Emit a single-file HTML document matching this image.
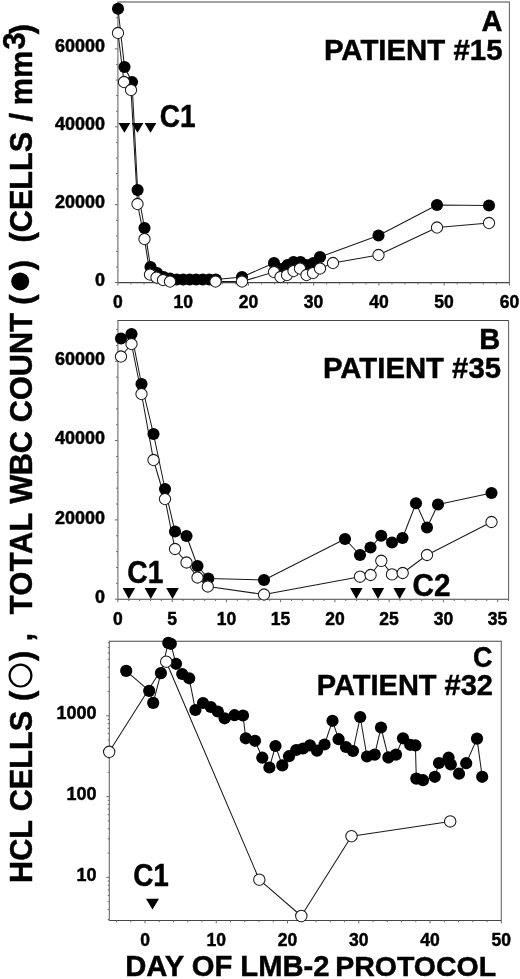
<!DOCTYPE html>
<html><head><meta charset="utf-8"><title>Figure</title>
<style>
html,body{margin:0;padding:0;background:#fff;}
body{width:520px;height:979px;overflow:hidden;}
svg{display:block;font-family:"Liberation Sans", Arial, Helvetica, sans-serif;fill:#000;}
</style></head><body>
<svg width="520" height="979" viewBox="0 0 520 979">
<rect x="0" y="0" width="520" height="979" fill="#fff"/>
<line x1="117.90" y1="1.90" x2="509.40" y2="1.90" stroke="#444" stroke-width="1.05"/>
<line x1="117.90" y1="282.60" x2="509.40" y2="282.60" stroke="#444" stroke-width="1.05"/>
<line x1="117.90" y1="1.40" x2="117.90" y2="283.10" stroke="#626262" stroke-width="1.05"/>
<line x1="509.40" y1="1.40" x2="509.40" y2="283.10" stroke="#626262" stroke-width="1.05"/>
<line x1="117.90" y1="282.60" x2="117.90" y2="285.60" stroke="#6a6a6a" stroke-width="1.0"/>
<line x1="130.95" y1="282.60" x2="130.95" y2="284.40" stroke="#6a6a6a" stroke-width="1.0"/>
<line x1="144.00" y1="282.60" x2="144.00" y2="284.40" stroke="#6a6a6a" stroke-width="1.0"/>
<line x1="157.05" y1="282.60" x2="157.05" y2="284.40" stroke="#6a6a6a" stroke-width="1.0"/>
<line x1="170.10" y1="282.60" x2="170.10" y2="284.40" stroke="#6a6a6a" stroke-width="1.0"/>
<line x1="183.15" y1="282.60" x2="183.15" y2="285.60" stroke="#6a6a6a" stroke-width="1.0"/>
<line x1="196.20" y1="282.60" x2="196.20" y2="284.40" stroke="#6a6a6a" stroke-width="1.0"/>
<line x1="209.25" y1="282.60" x2="209.25" y2="284.40" stroke="#6a6a6a" stroke-width="1.0"/>
<line x1="222.30" y1="282.60" x2="222.30" y2="284.40" stroke="#6a6a6a" stroke-width="1.0"/>
<line x1="235.35" y1="282.60" x2="235.35" y2="284.40" stroke="#6a6a6a" stroke-width="1.0"/>
<line x1="248.40" y1="282.60" x2="248.40" y2="285.60" stroke="#6a6a6a" stroke-width="1.0"/>
<line x1="261.45" y1="282.60" x2="261.45" y2="284.40" stroke="#6a6a6a" stroke-width="1.0"/>
<line x1="274.50" y1="282.60" x2="274.50" y2="284.40" stroke="#6a6a6a" stroke-width="1.0"/>
<line x1="287.55" y1="282.60" x2="287.55" y2="284.40" stroke="#6a6a6a" stroke-width="1.0"/>
<line x1="300.60" y1="282.60" x2="300.60" y2="284.40" stroke="#6a6a6a" stroke-width="1.0"/>
<line x1="313.65" y1="282.60" x2="313.65" y2="285.60" stroke="#6a6a6a" stroke-width="1.0"/>
<line x1="326.70" y1="282.60" x2="326.70" y2="284.40" stroke="#6a6a6a" stroke-width="1.0"/>
<line x1="339.75" y1="282.60" x2="339.75" y2="284.40" stroke="#6a6a6a" stroke-width="1.0"/>
<line x1="352.80" y1="282.60" x2="352.80" y2="284.40" stroke="#6a6a6a" stroke-width="1.0"/>
<line x1="365.85" y1="282.60" x2="365.85" y2="284.40" stroke="#6a6a6a" stroke-width="1.0"/>
<line x1="378.90" y1="282.60" x2="378.90" y2="285.60" stroke="#6a6a6a" stroke-width="1.0"/>
<line x1="391.95" y1="282.60" x2="391.95" y2="284.40" stroke="#6a6a6a" stroke-width="1.0"/>
<line x1="405.00" y1="282.60" x2="405.00" y2="284.40" stroke="#6a6a6a" stroke-width="1.0"/>
<line x1="418.05" y1="282.60" x2="418.05" y2="284.40" stroke="#6a6a6a" stroke-width="1.0"/>
<line x1="431.10" y1="282.60" x2="431.10" y2="284.40" stroke="#6a6a6a" stroke-width="1.0"/>
<line x1="444.15" y1="282.60" x2="444.15" y2="285.60" stroke="#6a6a6a" stroke-width="1.0"/>
<line x1="457.20" y1="282.60" x2="457.20" y2="284.40" stroke="#6a6a6a" stroke-width="1.0"/>
<line x1="470.25" y1="282.60" x2="470.25" y2="284.40" stroke="#6a6a6a" stroke-width="1.0"/>
<line x1="483.30" y1="282.60" x2="483.30" y2="284.40" stroke="#6a6a6a" stroke-width="1.0"/>
<line x1="496.35" y1="282.60" x2="496.35" y2="284.40" stroke="#6a6a6a" stroke-width="1.0"/>
<line x1="509.40" y1="282.60" x2="509.40" y2="285.60" stroke="#6a6a6a" stroke-width="1.0"/>
<line x1="117.90" y1="282.60" x2="114.90" y2="282.60" stroke="#6a6a6a" stroke-width="1.0"/>
<line x1="117.90" y1="267.02" x2="116.10" y2="267.02" stroke="#6a6a6a" stroke-width="1.0"/>
<line x1="117.90" y1="251.44" x2="116.10" y2="251.44" stroke="#6a6a6a" stroke-width="1.0"/>
<line x1="117.90" y1="235.86" x2="116.10" y2="235.86" stroke="#6a6a6a" stroke-width="1.0"/>
<line x1="117.90" y1="220.28" x2="116.10" y2="220.28" stroke="#6a6a6a" stroke-width="1.0"/>
<line x1="117.90" y1="204.70" x2="114.90" y2="204.70" stroke="#6a6a6a" stroke-width="1.0"/>
<line x1="117.90" y1="189.12" x2="116.10" y2="189.12" stroke="#6a6a6a" stroke-width="1.0"/>
<line x1="117.90" y1="173.54" x2="116.10" y2="173.54" stroke="#6a6a6a" stroke-width="1.0"/>
<line x1="117.90" y1="157.96" x2="116.10" y2="157.96" stroke="#6a6a6a" stroke-width="1.0"/>
<line x1="117.90" y1="142.38" x2="116.10" y2="142.38" stroke="#6a6a6a" stroke-width="1.0"/>
<line x1="117.90" y1="126.80" x2="114.90" y2="126.80" stroke="#6a6a6a" stroke-width="1.0"/>
<line x1="117.90" y1="111.22" x2="116.10" y2="111.22" stroke="#6a6a6a" stroke-width="1.0"/>
<line x1="117.90" y1="95.64" x2="116.10" y2="95.64" stroke="#6a6a6a" stroke-width="1.0"/>
<line x1="117.90" y1="80.06" x2="116.10" y2="80.06" stroke="#6a6a6a" stroke-width="1.0"/>
<line x1="117.90" y1="64.48" x2="116.10" y2="64.48" stroke="#6a6a6a" stroke-width="1.0"/>
<line x1="117.90" y1="48.90" x2="114.90" y2="48.90" stroke="#6a6a6a" stroke-width="1.0"/>
<line x1="117.90" y1="33.32" x2="116.10" y2="33.32" stroke="#6a6a6a" stroke-width="1.0"/>
<line x1="117.90" y1="17.74" x2="116.10" y2="17.74" stroke="#6a6a6a" stroke-width="1.0"/>
<text x="117.9" y="308.0" font-size="17.5" font-weight="bold" text-anchor="middle" stroke="#000" stroke-width="0.45" >0</text>
<text x="183.2" y="308.0" font-size="17.5" font-weight="bold" text-anchor="middle" stroke="#000" stroke-width="0.45" >10</text>
<text x="248.4" y="308.0" font-size="17.5" font-weight="bold" text-anchor="middle" stroke="#000" stroke-width="0.45" >20</text>
<text x="313.6" y="308.0" font-size="17.5" font-weight="bold" text-anchor="middle" stroke="#000" stroke-width="0.45" >30</text>
<text x="378.9" y="308.0" font-size="17.5" font-weight="bold" text-anchor="middle" stroke="#000" stroke-width="0.45" >40</text>
<text x="444.1" y="308.0" font-size="17.5" font-weight="bold" text-anchor="middle" stroke="#000" stroke-width="0.45" >50</text>
<text x="509.4" y="308.0" font-size="17.5" font-weight="bold" text-anchor="middle" stroke="#000" stroke-width="0.45" >60</text>
<text transform="translate(105.0,285.9) scale(1.03,1)" font-size="17.5" font-weight="bold" text-anchor="end" stroke="#000" stroke-width="0.45" >0</text>
<text transform="translate(105.0,208.0) scale(1.03,1)" font-size="17.5" font-weight="bold" text-anchor="end" stroke="#000" stroke-width="0.45" >20000</text>
<text transform="translate(105.0,130.1) scale(1.03,1)" font-size="17.5" font-weight="bold" text-anchor="end" stroke="#000" stroke-width="0.45" >40000</text>
<text transform="translate(105.0,52.2) scale(1.03,1)" font-size="17.5" font-weight="bold" text-anchor="end" stroke="#000" stroke-width="0.45" >60000</text>
<polyline points="118.0,8.7 124.5,67.0 132.0,82.0 137.6,190.0 144.5,228.0 150.5,267.0 157.0,273.0 163.5,277.0 170.0,278.5 176.7,279.5 183.2,279.5 189.7,279.5 196.2,279.5 202.8,279.5 209.3,279.5 215.8,279.5 242.0,277.0 274.0,263.0 281.0,269.0 287.5,265.0 293.5,262.0 300.5,262.0 307.0,265.0 313.5,263.0 320.0,257.0 378.5,235.5 437.0,205.0 489.0,205.5" fill="none" stroke="#1a1a1a" stroke-width="1.05" stroke-linejoin="round"/>
<polyline points="118.0,33.0 124.0,82.0 131.0,90.0 137.5,204.0 144.5,239.0 150.0,274.5 156.5,277.5 163.0,280.0 170.0,281.5 215.5,281.5 242.0,281.5 274.0,272.0 280.5,277.0 287.0,275.0 293.5,271.0 300.0,268.5 306.5,275.0 313.0,273.0 320.0,268.5 333.0,263.0 378.5,255.0 437.0,227.5 489.0,223.0" fill="none" stroke="#1a1a1a" stroke-width="1.05" stroke-linejoin="round"/>
<circle cx="118.0" cy="8.7" r="6.05" fill="#000"/>
<circle cx="124.5" cy="67.0" r="6.05" fill="#000"/>
<circle cx="132.0" cy="82.0" r="6.05" fill="#000"/>
<circle cx="137.6" cy="190.0" r="6.05" fill="#000"/>
<circle cx="144.5" cy="228.0" r="6.05" fill="#000"/>
<circle cx="150.5" cy="267.0" r="6.05" fill="#000"/>
<circle cx="157.0" cy="273.0" r="6.05" fill="#000"/>
<circle cx="163.5" cy="277.0" r="6.05" fill="#000"/>
<circle cx="170.0" cy="278.5" r="6.05" fill="#000"/>
<circle cx="176.7" cy="279.5" r="6.05" fill="#000"/>
<circle cx="183.2" cy="279.5" r="6.05" fill="#000"/>
<circle cx="189.7" cy="279.5" r="6.05" fill="#000"/>
<circle cx="196.2" cy="279.5" r="6.05" fill="#000"/>
<circle cx="202.8" cy="279.5" r="6.05" fill="#000"/>
<circle cx="209.3" cy="279.5" r="6.05" fill="#000"/>
<circle cx="215.8" cy="279.5" r="6.05" fill="#000"/>
<circle cx="242.0" cy="277.0" r="6.05" fill="#000"/>
<circle cx="274.0" cy="263.0" r="6.05" fill="#000"/>
<circle cx="281.0" cy="269.0" r="6.05" fill="#000"/>
<circle cx="287.5" cy="265.0" r="6.05" fill="#000"/>
<circle cx="293.5" cy="262.0" r="6.05" fill="#000"/>
<circle cx="300.5" cy="262.0" r="6.05" fill="#000"/>
<circle cx="307.0" cy="265.0" r="6.05" fill="#000"/>
<circle cx="313.5" cy="263.0" r="6.05" fill="#000"/>
<circle cx="320.0" cy="257.0" r="6.05" fill="#000"/>
<circle cx="378.5" cy="235.5" r="6.05" fill="#000"/>
<circle cx="437.0" cy="205.0" r="6.05" fill="#000"/>
<circle cx="489.0" cy="205.5" r="6.05" fill="#000"/>
<circle cx="118.0" cy="33.0" r="5.65" fill="#fff" stroke="#1a1a1a" stroke-width="1.05"/>
<circle cx="124.0" cy="82.0" r="5.65" fill="#fff" stroke="#1a1a1a" stroke-width="1.05"/>
<circle cx="131.0" cy="90.0" r="5.65" fill="#fff" stroke="#1a1a1a" stroke-width="1.05"/>
<circle cx="137.5" cy="204.0" r="5.65" fill="#fff" stroke="#1a1a1a" stroke-width="1.05"/>
<circle cx="144.5" cy="239.0" r="5.65" fill="#fff" stroke="#1a1a1a" stroke-width="1.05"/>
<circle cx="150.0" cy="274.5" r="5.65" fill="#fff" stroke="#1a1a1a" stroke-width="1.05"/>
<circle cx="156.5" cy="277.5" r="5.65" fill="#fff" stroke="#1a1a1a" stroke-width="1.05"/>
<circle cx="163.0" cy="280.0" r="5.65" fill="#fff" stroke="#1a1a1a" stroke-width="1.05"/>
<circle cx="170.0" cy="281.5" r="5.65" fill="#fff" stroke="#1a1a1a" stroke-width="1.05"/>
<circle cx="215.5" cy="281.5" r="5.65" fill="#fff" stroke="#1a1a1a" stroke-width="1.05"/>
<circle cx="242.0" cy="281.5" r="5.65" fill="#fff" stroke="#1a1a1a" stroke-width="1.05"/>
<circle cx="274.0" cy="272.0" r="5.65" fill="#fff" stroke="#1a1a1a" stroke-width="1.05"/>
<circle cx="280.5" cy="277.0" r="5.65" fill="#fff" stroke="#1a1a1a" stroke-width="1.05"/>
<circle cx="287.0" cy="275.0" r="5.65" fill="#fff" stroke="#1a1a1a" stroke-width="1.05"/>
<circle cx="293.5" cy="271.0" r="5.65" fill="#fff" stroke="#1a1a1a" stroke-width="1.05"/>
<circle cx="300.0" cy="268.5" r="5.65" fill="#fff" stroke="#1a1a1a" stroke-width="1.05"/>
<circle cx="306.5" cy="275.0" r="5.65" fill="#fff" stroke="#1a1a1a" stroke-width="1.05"/>
<circle cx="313.0" cy="273.0" r="5.65" fill="#fff" stroke="#1a1a1a" stroke-width="1.05"/>
<circle cx="320.0" cy="268.5" r="5.65" fill="#fff" stroke="#1a1a1a" stroke-width="1.05"/>
<circle cx="333.0" cy="263.0" r="5.65" fill="#fff" stroke="#1a1a1a" stroke-width="1.05"/>
<circle cx="378.5" cy="255.0" r="5.65" fill="#fff" stroke="#1a1a1a" stroke-width="1.05"/>
<circle cx="437.0" cy="227.5" r="5.65" fill="#fff" stroke="#1a1a1a" stroke-width="1.05"/>
<circle cx="489.0" cy="223.0" r="5.65" fill="#fff" stroke="#1a1a1a" stroke-width="1.05"/>
<polygon points="118.5,123.0 130.3,123.0 124.4,132.8" fill="#000"/>
<polygon points="131.6,123.0 143.4,123.0 137.5,132.8" fill="#000"/>
<polygon points="144.6,123.0 156.4,123.0 150.5,132.8" fill="#000"/>
<text transform="translate(159.8,126.7) scale(0.92,1)" font-size="30.5" font-weight="bold" text-anchor="start" stroke="#000" stroke-width="0.45" >C1</text>
<text x="502.5" y="31.4" font-size="29" font-weight="bold" text-anchor="end" stroke="#000" stroke-width="0.45" >A</text>
<text x="502.5" y="60.2" font-size="29.4" font-weight="bold" text-anchor="end" stroke="#000" stroke-width="0.45" >PATIENT #15</text>
<line x1="117.90" y1="320.40" x2="508.60" y2="320.40" stroke="#444" stroke-width="1.05"/>
<line x1="117.90" y1="599.20" x2="508.60" y2="599.20" stroke="#444" stroke-width="1.05"/>
<line x1="117.90" y1="319.90" x2="117.90" y2="599.70" stroke="#626262" stroke-width="1.05"/>
<line x1="508.60" y1="319.90" x2="508.60" y2="599.70" stroke="#626262" stroke-width="1.05"/>
<line x1="117.90" y1="599.20" x2="117.90" y2="602.20" stroke="#6a6a6a" stroke-width="1.0"/>
<line x1="128.75" y1="599.20" x2="128.75" y2="601.00" stroke="#6a6a6a" stroke-width="1.0"/>
<line x1="139.60" y1="599.20" x2="139.60" y2="601.00" stroke="#6a6a6a" stroke-width="1.0"/>
<line x1="150.45" y1="599.20" x2="150.45" y2="601.00" stroke="#6a6a6a" stroke-width="1.0"/>
<line x1="161.30" y1="599.20" x2="161.30" y2="601.00" stroke="#6a6a6a" stroke-width="1.0"/>
<line x1="172.15" y1="599.20" x2="172.15" y2="602.20" stroke="#6a6a6a" stroke-width="1.0"/>
<line x1="183.00" y1="599.20" x2="183.00" y2="601.00" stroke="#6a6a6a" stroke-width="1.0"/>
<line x1="193.85" y1="599.20" x2="193.85" y2="601.00" stroke="#6a6a6a" stroke-width="1.0"/>
<line x1="204.70" y1="599.20" x2="204.70" y2="601.00" stroke="#6a6a6a" stroke-width="1.0"/>
<line x1="215.55" y1="599.20" x2="215.55" y2="601.00" stroke="#6a6a6a" stroke-width="1.0"/>
<line x1="226.40" y1="599.20" x2="226.40" y2="602.20" stroke="#6a6a6a" stroke-width="1.0"/>
<line x1="237.25" y1="599.20" x2="237.25" y2="601.00" stroke="#6a6a6a" stroke-width="1.0"/>
<line x1="248.10" y1="599.20" x2="248.10" y2="601.00" stroke="#6a6a6a" stroke-width="1.0"/>
<line x1="258.95" y1="599.20" x2="258.95" y2="601.00" stroke="#6a6a6a" stroke-width="1.0"/>
<line x1="269.80" y1="599.20" x2="269.80" y2="601.00" stroke="#6a6a6a" stroke-width="1.0"/>
<line x1="280.65" y1="599.20" x2="280.65" y2="602.20" stroke="#6a6a6a" stroke-width="1.0"/>
<line x1="291.50" y1="599.20" x2="291.50" y2="601.00" stroke="#6a6a6a" stroke-width="1.0"/>
<line x1="302.35" y1="599.20" x2="302.35" y2="601.00" stroke="#6a6a6a" stroke-width="1.0"/>
<line x1="313.20" y1="599.20" x2="313.20" y2="601.00" stroke="#6a6a6a" stroke-width="1.0"/>
<line x1="324.05" y1="599.20" x2="324.05" y2="601.00" stroke="#6a6a6a" stroke-width="1.0"/>
<line x1="334.90" y1="599.20" x2="334.90" y2="602.20" stroke="#6a6a6a" stroke-width="1.0"/>
<line x1="345.75" y1="599.20" x2="345.75" y2="601.00" stroke="#6a6a6a" stroke-width="1.0"/>
<line x1="356.60" y1="599.20" x2="356.60" y2="601.00" stroke="#6a6a6a" stroke-width="1.0"/>
<line x1="367.45" y1="599.20" x2="367.45" y2="601.00" stroke="#6a6a6a" stroke-width="1.0"/>
<line x1="378.30" y1="599.20" x2="378.30" y2="601.00" stroke="#6a6a6a" stroke-width="1.0"/>
<line x1="389.15" y1="599.20" x2="389.15" y2="602.20" stroke="#6a6a6a" stroke-width="1.0"/>
<line x1="400.00" y1="599.20" x2="400.00" y2="601.00" stroke="#6a6a6a" stroke-width="1.0"/>
<line x1="410.85" y1="599.20" x2="410.85" y2="601.00" stroke="#6a6a6a" stroke-width="1.0"/>
<line x1="421.70" y1="599.20" x2="421.70" y2="601.00" stroke="#6a6a6a" stroke-width="1.0"/>
<line x1="432.55" y1="599.20" x2="432.55" y2="601.00" stroke="#6a6a6a" stroke-width="1.0"/>
<line x1="443.40" y1="599.20" x2="443.40" y2="602.20" stroke="#6a6a6a" stroke-width="1.0"/>
<line x1="454.25" y1="599.20" x2="454.25" y2="601.00" stroke="#6a6a6a" stroke-width="1.0"/>
<line x1="465.10" y1="599.20" x2="465.10" y2="601.00" stroke="#6a6a6a" stroke-width="1.0"/>
<line x1="475.95" y1="599.20" x2="475.95" y2="601.00" stroke="#6a6a6a" stroke-width="1.0"/>
<line x1="486.80" y1="599.20" x2="486.80" y2="601.00" stroke="#6a6a6a" stroke-width="1.0"/>
<line x1="497.65" y1="599.20" x2="497.65" y2="602.20" stroke="#6a6a6a" stroke-width="1.0"/>
<line x1="508.50" y1="599.20" x2="508.50" y2="601.00" stroke="#6a6a6a" stroke-width="1.0"/>
<line x1="117.90" y1="599.20" x2="114.90" y2="599.20" stroke="#6a6a6a" stroke-width="1.0"/>
<line x1="117.90" y1="583.34" x2="116.10" y2="583.34" stroke="#6a6a6a" stroke-width="1.0"/>
<line x1="117.90" y1="567.48" x2="116.10" y2="567.48" stroke="#6a6a6a" stroke-width="1.0"/>
<line x1="117.90" y1="551.62" x2="116.10" y2="551.62" stroke="#6a6a6a" stroke-width="1.0"/>
<line x1="117.90" y1="535.76" x2="116.10" y2="535.76" stroke="#6a6a6a" stroke-width="1.0"/>
<line x1="117.90" y1="519.90" x2="114.90" y2="519.90" stroke="#6a6a6a" stroke-width="1.0"/>
<line x1="117.90" y1="504.04" x2="116.10" y2="504.04" stroke="#6a6a6a" stroke-width="1.0"/>
<line x1="117.90" y1="488.18" x2="116.10" y2="488.18" stroke="#6a6a6a" stroke-width="1.0"/>
<line x1="117.90" y1="472.32" x2="116.10" y2="472.32" stroke="#6a6a6a" stroke-width="1.0"/>
<line x1="117.90" y1="456.46" x2="116.10" y2="456.46" stroke="#6a6a6a" stroke-width="1.0"/>
<line x1="117.90" y1="440.60" x2="114.90" y2="440.60" stroke="#6a6a6a" stroke-width="1.0"/>
<line x1="117.90" y1="424.74" x2="116.10" y2="424.74" stroke="#6a6a6a" stroke-width="1.0"/>
<line x1="117.90" y1="408.88" x2="116.10" y2="408.88" stroke="#6a6a6a" stroke-width="1.0"/>
<line x1="117.90" y1="393.02" x2="116.10" y2="393.02" stroke="#6a6a6a" stroke-width="1.0"/>
<line x1="117.90" y1="377.16" x2="116.10" y2="377.16" stroke="#6a6a6a" stroke-width="1.0"/>
<line x1="117.90" y1="361.30" x2="114.90" y2="361.30" stroke="#6a6a6a" stroke-width="1.0"/>
<line x1="117.90" y1="345.44" x2="116.10" y2="345.44" stroke="#6a6a6a" stroke-width="1.0"/>
<line x1="117.90" y1="329.58" x2="116.10" y2="329.58" stroke="#6a6a6a" stroke-width="1.0"/>
<text x="117.9" y="624.6" font-size="17.5" font-weight="bold" text-anchor="middle" stroke="#000" stroke-width="0.45" >0</text>
<text x="172.2" y="624.6" font-size="17.5" font-weight="bold" text-anchor="middle" stroke="#000" stroke-width="0.45" >5</text>
<text x="226.4" y="624.6" font-size="17.5" font-weight="bold" text-anchor="middle" stroke="#000" stroke-width="0.45" >10</text>
<text x="280.6" y="624.6" font-size="17.5" font-weight="bold" text-anchor="middle" stroke="#000" stroke-width="0.45" >15</text>
<text x="334.9" y="624.6" font-size="17.5" font-weight="bold" text-anchor="middle" stroke="#000" stroke-width="0.45" >20</text>
<text x="389.1" y="624.6" font-size="17.5" font-weight="bold" text-anchor="middle" stroke="#000" stroke-width="0.45" >25</text>
<text x="443.4" y="624.6" font-size="17.5" font-weight="bold" text-anchor="middle" stroke="#000" stroke-width="0.45" >30</text>
<text x="497.6" y="624.6" font-size="17.5" font-weight="bold" text-anchor="middle" stroke="#000" stroke-width="0.45" >35</text>
<text transform="translate(105.0,602.8) scale(1.03,1)" font-size="17.5" font-weight="bold" text-anchor="end" stroke="#000" stroke-width="0.45" >0</text>
<text transform="translate(105.0,523.5) scale(1.03,1)" font-size="17.5" font-weight="bold" text-anchor="end" stroke="#000" stroke-width="0.45" >20000</text>
<text transform="translate(105.0,444.2) scale(1.03,1)" font-size="17.5" font-weight="bold" text-anchor="end" stroke="#000" stroke-width="0.45" >40000</text>
<text transform="translate(105.0,364.9) scale(1.03,1)" font-size="17.5" font-weight="bold" text-anchor="end" stroke="#000" stroke-width="0.45" >60000</text>
<polyline points="121.0,338.5 131.5,334.0 141.5,384.0 153.5,434.0 165.0,489.0 175.0,531.5 186.5,536.0 197.5,566.0 208.3,578.5 264.0,580.0 345.0,539.0 360.0,555.0 370.5,547.5 381.2,535.8 392.0,542.5 402.5,538.0 416.0,503.3 427.0,527.5 438.0,504.5 491.5,493.0" fill="none" stroke="#1a1a1a" stroke-width="1.05" stroke-linejoin="round"/>
<polyline points="121.0,356.5 131.5,344.0 141.5,394.0 153.5,460.0 165.0,499.0 175.0,549.0 186.5,562.5 197.5,577.5 207.8,586.5 264.0,594.5 360.0,576.7 370.6,575.0 381.3,560.8 392.0,574.4 402.7,573.0 427.0,555.0 491.5,522.0" fill="none" stroke="#1a1a1a" stroke-width="1.05" stroke-linejoin="round"/>
<circle cx="121.0" cy="338.5" r="6.05" fill="#000"/>
<circle cx="131.5" cy="334.0" r="6.05" fill="#000"/>
<circle cx="141.5" cy="384.0" r="6.05" fill="#000"/>
<circle cx="153.5" cy="434.0" r="6.05" fill="#000"/>
<circle cx="165.0" cy="489.0" r="6.05" fill="#000"/>
<circle cx="175.0" cy="531.5" r="6.05" fill="#000"/>
<circle cx="186.5" cy="536.0" r="6.05" fill="#000"/>
<circle cx="197.5" cy="566.0" r="6.05" fill="#000"/>
<circle cx="208.3" cy="578.5" r="6.05" fill="#000"/>
<circle cx="264.0" cy="580.0" r="6.05" fill="#000"/>
<circle cx="345.0" cy="539.0" r="6.05" fill="#000"/>
<circle cx="360.0" cy="555.0" r="6.05" fill="#000"/>
<circle cx="370.5" cy="547.5" r="6.05" fill="#000"/>
<circle cx="381.2" cy="535.8" r="6.05" fill="#000"/>
<circle cx="392.0" cy="542.5" r="6.05" fill="#000"/>
<circle cx="402.5" cy="538.0" r="6.05" fill="#000"/>
<circle cx="416.0" cy="503.3" r="6.05" fill="#000"/>
<circle cx="427.0" cy="527.5" r="6.05" fill="#000"/>
<circle cx="438.0" cy="504.5" r="6.05" fill="#000"/>
<circle cx="491.5" cy="493.0" r="6.05" fill="#000"/>
<circle cx="121.0" cy="356.5" r="5.65" fill="#fff" stroke="#1a1a1a" stroke-width="1.05"/>
<circle cx="131.5" cy="344.0" r="5.65" fill="#fff" stroke="#1a1a1a" stroke-width="1.05"/>
<circle cx="141.5" cy="394.0" r="5.65" fill="#fff" stroke="#1a1a1a" stroke-width="1.05"/>
<circle cx="153.5" cy="460.0" r="5.65" fill="#fff" stroke="#1a1a1a" stroke-width="1.05"/>
<circle cx="165.0" cy="499.0" r="5.65" fill="#fff" stroke="#1a1a1a" stroke-width="1.05"/>
<circle cx="175.0" cy="549.0" r="5.65" fill="#fff" stroke="#1a1a1a" stroke-width="1.05"/>
<circle cx="186.5" cy="562.5" r="5.65" fill="#fff" stroke="#1a1a1a" stroke-width="1.05"/>
<circle cx="197.5" cy="577.5" r="5.65" fill="#fff" stroke="#1a1a1a" stroke-width="1.05"/>
<circle cx="207.8" cy="586.5" r="5.65" fill="#fff" stroke="#1a1a1a" stroke-width="1.05"/>
<circle cx="264.0" cy="594.5" r="5.65" fill="#fff" stroke="#1a1a1a" stroke-width="1.05"/>
<circle cx="360.0" cy="576.7" r="5.65" fill="#fff" stroke="#1a1a1a" stroke-width="1.05"/>
<circle cx="370.6" cy="575.0" r="5.65" fill="#fff" stroke="#1a1a1a" stroke-width="1.05"/>
<circle cx="381.3" cy="560.8" r="5.65" fill="#fff" stroke="#1a1a1a" stroke-width="1.05"/>
<circle cx="392.0" cy="574.4" r="5.65" fill="#fff" stroke="#1a1a1a" stroke-width="1.05"/>
<circle cx="402.7" cy="573.0" r="5.65" fill="#fff" stroke="#1a1a1a" stroke-width="1.05"/>
<circle cx="427.0" cy="555.0" r="5.65" fill="#fff" stroke="#1a1a1a" stroke-width="1.05"/>
<circle cx="491.5" cy="522.0" r="5.65" fill="#fff" stroke="#1a1a1a" stroke-width="1.05"/>
<polygon points="122.6,588.0 135.1,588.0 128.8,599.0" fill="#000"/>
<polygon points="144.6,588.0 157.1,588.0 150.8,599.0" fill="#000"/>
<polygon points="166.2,588.0 178.8,588.0 172.5,599.0" fill="#000"/>
<polygon points="350.1,588.0 362.6,588.0 356.3,599.0" fill="#000"/>
<polygon points="371.8,588.0 384.2,588.0 378.0,599.0" fill="#000"/>
<polygon points="393.4,588.0 405.9,588.0 399.6,599.0" fill="#000"/>
<text transform="translate(127.3,583.0) scale(0.925,1)" font-size="30.5" font-weight="bold" text-anchor="start" stroke="#000" stroke-width="0.45" >C1</text>
<text transform="translate(412.6,595.6) scale(0.975,1)" font-size="30.5" font-weight="bold" text-anchor="start" stroke="#000" stroke-width="0.45" >C2</text>
<text x="500.3" y="349.0" font-size="29" font-weight="bold" text-anchor="end" stroke="#000" stroke-width="0.45" >B</text>
<text x="501.0" y="377.7" font-size="29.3" font-weight="bold" text-anchor="end" stroke="#000" stroke-width="0.45" >PATIENT #35</text>
<line x1="109.30" y1="641.30" x2="501.30" y2="641.30" stroke="#444" stroke-width="1.05"/>
<line x1="109.30" y1="920.40" x2="501.30" y2="920.40" stroke="#444" stroke-width="1.05"/>
<line x1="109.30" y1="640.80" x2="109.30" y2="920.90" stroke="#626262" stroke-width="1.05"/>
<line x1="501.30" y1="640.80" x2="501.30" y2="920.90" stroke="#626262" stroke-width="1.05"/>
<line x1="116.50" y1="920.40" x2="116.50" y2="922.20" stroke="#6a6a6a" stroke-width="1.0"/>
<line x1="130.75" y1="920.40" x2="130.75" y2="922.20" stroke="#6a6a6a" stroke-width="1.0"/>
<line x1="145.00" y1="920.40" x2="145.00" y2="923.40" stroke="#6a6a6a" stroke-width="1.0"/>
<line x1="159.25" y1="920.40" x2="159.25" y2="922.20" stroke="#6a6a6a" stroke-width="1.0"/>
<line x1="173.50" y1="920.40" x2="173.50" y2="922.20" stroke="#6a6a6a" stroke-width="1.0"/>
<line x1="187.76" y1="920.40" x2="187.76" y2="922.20" stroke="#6a6a6a" stroke-width="1.0"/>
<line x1="202.01" y1="920.40" x2="202.01" y2="922.20" stroke="#6a6a6a" stroke-width="1.0"/>
<line x1="216.26" y1="920.40" x2="216.26" y2="923.40" stroke="#6a6a6a" stroke-width="1.0"/>
<line x1="230.51" y1="920.40" x2="230.51" y2="922.20" stroke="#6a6a6a" stroke-width="1.0"/>
<line x1="244.76" y1="920.40" x2="244.76" y2="922.20" stroke="#6a6a6a" stroke-width="1.0"/>
<line x1="259.02" y1="920.40" x2="259.02" y2="922.20" stroke="#6a6a6a" stroke-width="1.0"/>
<line x1="273.27" y1="920.40" x2="273.27" y2="922.20" stroke="#6a6a6a" stroke-width="1.0"/>
<line x1="287.52" y1="920.40" x2="287.52" y2="923.40" stroke="#6a6a6a" stroke-width="1.0"/>
<line x1="301.77" y1="920.40" x2="301.77" y2="922.20" stroke="#6a6a6a" stroke-width="1.0"/>
<line x1="316.02" y1="920.40" x2="316.02" y2="922.20" stroke="#6a6a6a" stroke-width="1.0"/>
<line x1="330.28" y1="920.40" x2="330.28" y2="922.20" stroke="#6a6a6a" stroke-width="1.0"/>
<line x1="344.53" y1="920.40" x2="344.53" y2="922.20" stroke="#6a6a6a" stroke-width="1.0"/>
<line x1="358.78" y1="920.40" x2="358.78" y2="923.40" stroke="#6a6a6a" stroke-width="1.0"/>
<line x1="373.03" y1="920.40" x2="373.03" y2="922.20" stroke="#6a6a6a" stroke-width="1.0"/>
<line x1="387.28" y1="920.40" x2="387.28" y2="922.20" stroke="#6a6a6a" stroke-width="1.0"/>
<line x1="401.54" y1="920.40" x2="401.54" y2="922.20" stroke="#6a6a6a" stroke-width="1.0"/>
<line x1="415.79" y1="920.40" x2="415.79" y2="922.20" stroke="#6a6a6a" stroke-width="1.0"/>
<line x1="430.04" y1="920.40" x2="430.04" y2="923.40" stroke="#6a6a6a" stroke-width="1.0"/>
<line x1="444.29" y1="920.40" x2="444.29" y2="922.20" stroke="#6a6a6a" stroke-width="1.0"/>
<line x1="458.54" y1="920.40" x2="458.54" y2="922.20" stroke="#6a6a6a" stroke-width="1.0"/>
<line x1="472.80" y1="920.40" x2="472.80" y2="922.20" stroke="#6a6a6a" stroke-width="1.0"/>
<line x1="487.05" y1="920.40" x2="487.05" y2="922.20" stroke="#6a6a6a" stroke-width="1.0"/>
<line x1="501.30" y1="920.40" x2="501.30" y2="923.40" stroke="#6a6a6a" stroke-width="1.0"/>
<line x1="109.30" y1="919.65" x2="107.70" y2="919.65" stroke="#6a6a6a" stroke-width="1.0"/>
<line x1="109.30" y1="909.55" x2="107.70" y2="909.55" stroke="#6a6a6a" stroke-width="1.0"/>
<line x1="109.30" y1="901.72" x2="107.70" y2="901.72" stroke="#6a6a6a" stroke-width="1.0"/>
<line x1="109.30" y1="895.33" x2="107.70" y2="895.33" stroke="#6a6a6a" stroke-width="1.0"/>
<line x1="109.30" y1="889.92" x2="107.70" y2="889.92" stroke="#6a6a6a" stroke-width="1.0"/>
<line x1="109.30" y1="885.23" x2="107.70" y2="885.23" stroke="#6a6a6a" stroke-width="1.0"/>
<line x1="109.30" y1="881.10" x2="107.70" y2="881.10" stroke="#6a6a6a" stroke-width="1.0"/>
<line x1="109.30" y1="877.40" x2="106.30" y2="877.40" stroke="#6a6a6a" stroke-width="1.0"/>
<line x1="109.30" y1="853.08" x2="107.70" y2="853.08" stroke="#6a6a6a" stroke-width="1.0"/>
<line x1="109.30" y1="838.85" x2="107.70" y2="838.85" stroke="#6a6a6a" stroke-width="1.0"/>
<line x1="109.30" y1="828.75" x2="107.70" y2="828.75" stroke="#6a6a6a" stroke-width="1.0"/>
<line x1="109.30" y1="820.92" x2="107.70" y2="820.92" stroke="#6a6a6a" stroke-width="1.0"/>
<line x1="109.30" y1="814.53" x2="107.70" y2="814.53" stroke="#6a6a6a" stroke-width="1.0"/>
<line x1="109.30" y1="809.12" x2="107.70" y2="809.12" stroke="#6a6a6a" stroke-width="1.0"/>
<line x1="109.30" y1="804.43" x2="107.70" y2="804.43" stroke="#6a6a6a" stroke-width="1.0"/>
<line x1="109.30" y1="800.30" x2="107.70" y2="800.30" stroke="#6a6a6a" stroke-width="1.0"/>
<line x1="109.30" y1="796.60" x2="106.30" y2="796.60" stroke="#6a6a6a" stroke-width="1.0"/>
<line x1="109.30" y1="772.28" x2="107.70" y2="772.28" stroke="#6a6a6a" stroke-width="1.0"/>
<line x1="109.30" y1="758.05" x2="107.70" y2="758.05" stroke="#6a6a6a" stroke-width="1.0"/>
<line x1="109.30" y1="747.95" x2="107.70" y2="747.95" stroke="#6a6a6a" stroke-width="1.0"/>
<line x1="109.30" y1="740.12" x2="107.70" y2="740.12" stroke="#6a6a6a" stroke-width="1.0"/>
<line x1="109.30" y1="733.73" x2="107.70" y2="733.73" stroke="#6a6a6a" stroke-width="1.0"/>
<line x1="109.30" y1="728.32" x2="107.70" y2="728.32" stroke="#6a6a6a" stroke-width="1.0"/>
<line x1="109.30" y1="723.63" x2="107.70" y2="723.63" stroke="#6a6a6a" stroke-width="1.0"/>
<line x1="109.30" y1="719.50" x2="107.70" y2="719.50" stroke="#6a6a6a" stroke-width="1.0"/>
<line x1="109.30" y1="715.80" x2="106.30" y2="715.80" stroke="#6a6a6a" stroke-width="1.0"/>
<line x1="109.30" y1="691.48" x2="107.70" y2="691.48" stroke="#6a6a6a" stroke-width="1.0"/>
<line x1="109.30" y1="677.25" x2="107.70" y2="677.25" stroke="#6a6a6a" stroke-width="1.0"/>
<line x1="109.30" y1="667.15" x2="107.70" y2="667.15" stroke="#6a6a6a" stroke-width="1.0"/>
<line x1="109.30" y1="659.32" x2="107.70" y2="659.32" stroke="#6a6a6a" stroke-width="1.0"/>
<line x1="109.30" y1="652.93" x2="107.70" y2="652.93" stroke="#6a6a6a" stroke-width="1.0"/>
<line x1="109.30" y1="647.52" x2="107.70" y2="647.52" stroke="#6a6a6a" stroke-width="1.0"/>
<line x1="109.30" y1="642.83" x2="107.70" y2="642.83" stroke="#6a6a6a" stroke-width="1.0"/>
<text x="145.0" y="945.5" font-size="17.5" font-weight="bold" text-anchor="middle" stroke="#000" stroke-width="0.45" >0</text>
<text x="216.3" y="945.5" font-size="17.5" font-weight="bold" text-anchor="middle" stroke="#000" stroke-width="0.45" >10</text>
<text x="287.5" y="945.5" font-size="17.5" font-weight="bold" text-anchor="middle" stroke="#000" stroke-width="0.45" >20</text>
<text x="358.8" y="945.5" font-size="17.5" font-weight="bold" text-anchor="middle" stroke="#000" stroke-width="0.45" >30</text>
<text x="430.0" y="945.5" font-size="17.5" font-weight="bold" text-anchor="middle" stroke="#000" stroke-width="0.45" >40</text>
<text x="501.3" y="945.5" font-size="17.5" font-weight="bold" text-anchor="middle" stroke="#000" stroke-width="0.45" >50</text>
<text transform="translate(96.5,880.8) scale(1.03,1)" font-size="17.5" font-weight="bold" text-anchor="end" stroke="#000" stroke-width="0.45" >10</text>
<text transform="translate(96.5,800.0) scale(1.03,1)" font-size="17.5" font-weight="bold" text-anchor="end" stroke="#000" stroke-width="0.45" >100</text>
<text transform="translate(96.5,719.2) scale(1.03,1)" font-size="17.5" font-weight="bold" text-anchor="end" stroke="#000" stroke-width="0.45" >1000</text>
<polyline points="126.2,670.9 149.2,690.9 153.2,702.9 160.9,673.1 168.3,642.9 170.8,643.8 176.0,663.8 182.2,674.0 189.2,678.3 195.4,710.0 203.0,703.0 210.8,707.0 217.8,711.5 224.6,718.3 234.5,715.2 243.0,715.5 245.8,738.3 255.0,740.8 262.3,757.7 269.4,767.5 275.5,746.0 282.3,765.4 289.0,756.2 296.2,750.0 303.0,748.5 310.0,745.4 317.0,750.6 324.5,744.5 332.5,720.8 338.6,739.2 346.0,747.0 353.0,751.0 360.2,717.0 367.0,756.5 374.7,754.6 381.0,727.5 388.4,757.4 396.0,754.6 403.0,738.3 410.2,744.8 415.4,745.4 416.3,778.6 423.0,780.2 434.8,776.8 439.0,763.0 448.6,757.7 450.8,764.5 459.0,773.7 466.2,763.2 477.0,738.6 482.2,776.8" fill="none" stroke="#1a1a1a" stroke-width="1.05" stroke-linejoin="round"/>
<polyline points="109.2,751.8 166.2,661.7 259.3,879.7 301.3,916.0 351.5,836.2 450.2,821.4" fill="none" stroke="#1a1a1a" stroke-width="1.05" stroke-linejoin="round"/>
<circle cx="126.2" cy="670.9" r="6.1" fill="#000"/>
<circle cx="149.2" cy="690.9" r="6.1" fill="#000"/>
<circle cx="153.2" cy="702.9" r="6.1" fill="#000"/>
<circle cx="160.9" cy="673.1" r="6.1" fill="#000"/>
<circle cx="168.3" cy="642.9" r="6.1" fill="#000"/>
<circle cx="170.8" cy="643.8" r="6.1" fill="#000"/>
<circle cx="176.0" cy="663.8" r="6.1" fill="#000"/>
<circle cx="182.2" cy="674.0" r="6.1" fill="#000"/>
<circle cx="189.2" cy="678.3" r="6.1" fill="#000"/>
<circle cx="195.4" cy="710.0" r="6.1" fill="#000"/>
<circle cx="203.0" cy="703.0" r="6.1" fill="#000"/>
<circle cx="210.8" cy="707.0" r="6.1" fill="#000"/>
<circle cx="217.8" cy="711.5" r="6.1" fill="#000"/>
<circle cx="224.6" cy="718.3" r="6.1" fill="#000"/>
<circle cx="234.5" cy="715.2" r="6.1" fill="#000"/>
<circle cx="243.0" cy="715.5" r="6.1" fill="#000"/>
<circle cx="245.8" cy="738.3" r="6.1" fill="#000"/>
<circle cx="255.0" cy="740.8" r="6.1" fill="#000"/>
<circle cx="262.3" cy="757.7" r="6.1" fill="#000"/>
<circle cx="269.4" cy="767.5" r="6.1" fill="#000"/>
<circle cx="275.5" cy="746.0" r="6.1" fill="#000"/>
<circle cx="282.3" cy="765.4" r="6.1" fill="#000"/>
<circle cx="289.0" cy="756.2" r="6.1" fill="#000"/>
<circle cx="296.2" cy="750.0" r="6.1" fill="#000"/>
<circle cx="303.0" cy="748.5" r="6.1" fill="#000"/>
<circle cx="310.0" cy="745.4" r="6.1" fill="#000"/>
<circle cx="317.0" cy="750.6" r="6.1" fill="#000"/>
<circle cx="324.5" cy="744.5" r="6.1" fill="#000"/>
<circle cx="332.5" cy="720.8" r="6.1" fill="#000"/>
<circle cx="338.6" cy="739.2" r="6.1" fill="#000"/>
<circle cx="346.0" cy="747.0" r="6.1" fill="#000"/>
<circle cx="353.0" cy="751.0" r="6.1" fill="#000"/>
<circle cx="360.2" cy="717.0" r="6.1" fill="#000"/>
<circle cx="367.0" cy="756.5" r="6.1" fill="#000"/>
<circle cx="374.7" cy="754.6" r="6.1" fill="#000"/>
<circle cx="381.0" cy="727.5" r="6.1" fill="#000"/>
<circle cx="388.4" cy="757.4" r="6.1" fill="#000"/>
<circle cx="396.0" cy="754.6" r="6.1" fill="#000"/>
<circle cx="403.0" cy="738.3" r="6.1" fill="#000"/>
<circle cx="410.2" cy="744.8" r="6.1" fill="#000"/>
<circle cx="415.4" cy="745.4" r="6.1" fill="#000"/>
<circle cx="416.3" cy="778.6" r="6.1" fill="#000"/>
<circle cx="423.0" cy="780.2" r="6.1" fill="#000"/>
<circle cx="434.8" cy="776.8" r="6.1" fill="#000"/>
<circle cx="439.0" cy="763.0" r="6.1" fill="#000"/>
<circle cx="448.6" cy="757.7" r="6.1" fill="#000"/>
<circle cx="450.8" cy="764.5" r="6.1" fill="#000"/>
<circle cx="459.0" cy="773.7" r="6.1" fill="#000"/>
<circle cx="466.2" cy="763.2" r="6.1" fill="#000"/>
<circle cx="477.0" cy="738.6" r="6.1" fill="#000"/>
<circle cx="482.2" cy="776.8" r="6.1" fill="#000"/>
<circle cx="109.2" cy="751.8" r="5.7" fill="#fff" stroke="#1a1a1a" stroke-width="1.05"/>
<circle cx="166.2" cy="661.7" r="5.7" fill="#fff" stroke="#1a1a1a" stroke-width="1.05"/>
<circle cx="259.3" cy="879.7" r="5.7" fill="#fff" stroke="#1a1a1a" stroke-width="1.05"/>
<circle cx="301.3" cy="916.0" r="5.7" fill="#fff" stroke="#1a1a1a" stroke-width="1.05"/>
<circle cx="351.5" cy="836.2" r="5.7" fill="#fff" stroke="#1a1a1a" stroke-width="1.05"/>
<circle cx="450.2" cy="821.4" r="5.7" fill="#fff" stroke="#1a1a1a" stroke-width="1.05"/>
<polygon points="146.0,898.7 159.0,898.7 152.5,909.5" fill="#000"/>
<text transform="translate(133.2,886.0) scale(0.915,1)" font-size="30.5" font-weight="bold" text-anchor="start" stroke="#000" stroke-width="0.45" >C1</text>
<text transform="translate(492.6,666.5) scale(0.93,1)" font-size="29" font-weight="bold" text-anchor="end" stroke="#000" stroke-width="0.45" >C</text>
<text x="493.0" y="695.4" font-size="29" font-weight="bold" text-anchor="end" stroke="#000" stroke-width="0.45" >PATIENT #32</text>
<text x="125.2" y="976.2" font-size="29.2" font-weight="bold" text-anchor="start" stroke="#000" stroke-width="0.45" >DAY OF LMB-2</text>
<text x="335.2" y="976.2" font-size="28.5" font-weight="bold" text-anchor="start" stroke="#000" stroke-width="0.45" >PROTOCOL</text>
<text transform="translate(32.0,883.0) rotate(-90)" font-size="30.7" font-weight="bold" letter-spacing="0" stroke="#000" stroke-width="0.45">HCL</text>
<text transform="translate(32.0,811.3) rotate(-90)" font-size="30.7" font-weight="bold" letter-spacing="0" stroke="#000" stroke-width="0.45">CELLS</text>
<text transform="translate(32.0,701.0) rotate(-90)" font-size="30.7" font-weight="bold" letter-spacing="0" stroke="#000" stroke-width="0.45">(</text>
<circle cx="20.5" cy="675.6" r="10.9" fill="none" stroke="#000" stroke-width="2.2"/>
<text transform="translate(32.0,661.0) rotate(-90)" font-size="30.7" font-weight="bold" letter-spacing="0" stroke="#000" stroke-width="0.45">)</text>
<text transform="translate(32.0,641.5) rotate(-90)" font-size="30.7" font-weight="bold" letter-spacing="0" stroke="#000" stroke-width="0.45">,</text>
<text transform="translate(32.0,614.3) rotate(-90)" font-size="30.7" font-weight="bold" letter-spacing="0.55" stroke="#000" stroke-width="0.45">TOTAL</text>
<text transform="translate(32.0,503.7) rotate(-90)" font-size="30.7" font-weight="bold" letter-spacing="-0.4" stroke="#000" stroke-width="0.45">WBC</text>
<text transform="translate(32.0,422.2) rotate(-90)" font-size="30.7" font-weight="bold" letter-spacing="0" stroke="#000" stroke-width="0.45">COUNT</text>
<text transform="translate(32.0,304.8) rotate(-90)" font-size="30.7" font-weight="bold" letter-spacing="0" stroke="#000" stroke-width="0.45">(</text>
<circle cx="20.2" cy="281.4" r="9" fill="#000"/>
<text transform="translate(32.0,270.2) rotate(-90)" font-size="30.7" font-weight="bold" letter-spacing="0" stroke="#000" stroke-width="0.45">)</text>
<text transform="translate(32.0,242.5) rotate(-90)" font-size="30.7" font-weight="bold" letter-spacing="0" stroke="#000" stroke-width="0.45">(CELLS</text>
<text transform="translate(32.0,121.5) rotate(-90)" font-size="30.7" font-weight="bold" letter-spacing="0" stroke="#000" stroke-width="0.45">/</text>
<text transform="translate(32.0,105.3) rotate(-90)" font-size="30.7" font-weight="bold" letter-spacing="0" stroke="#000" stroke-width="0.45">mm</text>
<text transform="translate(25.0,49.5) rotate(-90)" font-size="30.7" font-weight="bold" letter-spacing="0" stroke="#000" stroke-width="0.45">3</text>
<text transform="translate(32.0,34.2) rotate(-90)" font-size="30.7" font-weight="bold" letter-spacing="0" stroke="#000" stroke-width="0.45">)</text>
</svg>
</body></html>
